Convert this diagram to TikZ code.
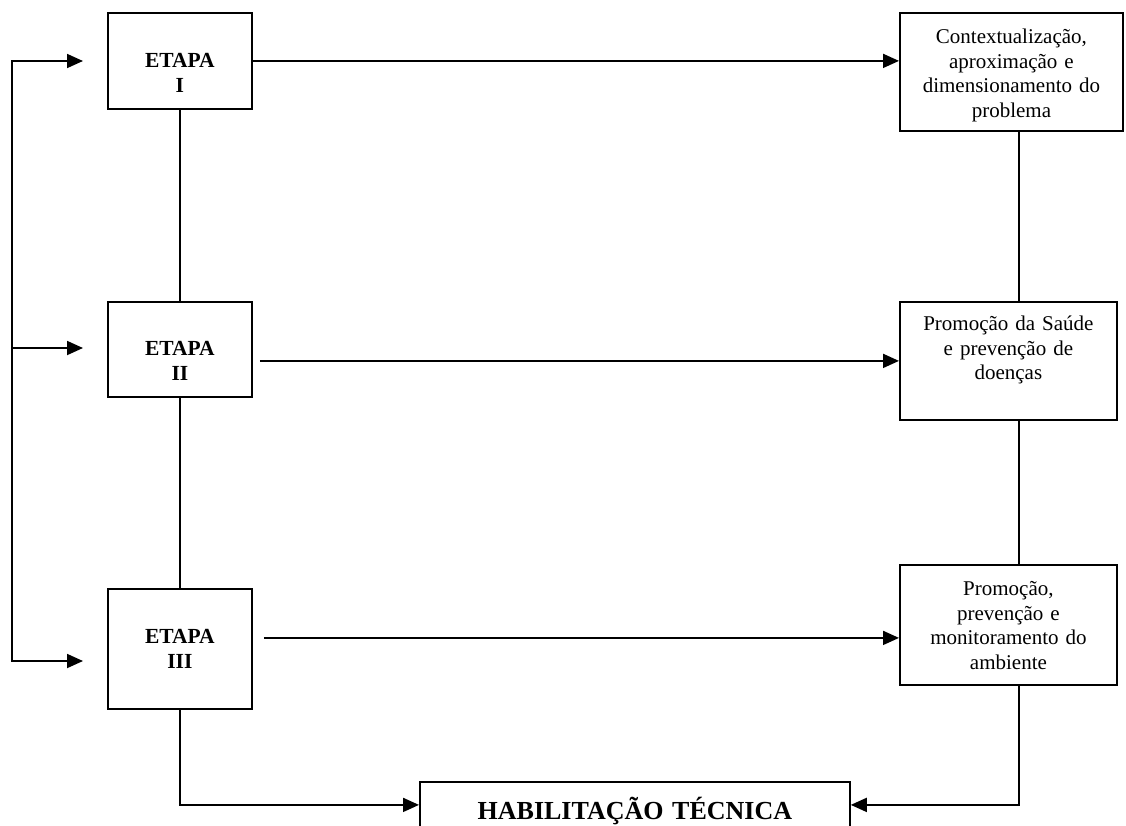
\documentclass[tikz,border=0pt]{standalone}
\usepackage{fontspec}
\setmainfont{Liberation Serif}
\usetikzlibrary{arrows.meta,calc}

\begin{document}
\begin{tikzpicture}[x=1pt,y=-1pt,>={Triangle[length=16pt,width=14pt]},
	box/.style={draw,line width=1.8pt,anchor=north west,inner xsep=4pt,inner ysep=0pt,align=center},
	etapa/.style={box,text width=136pt,font=\bfseries\fontsize{21.5}{25}\selectfont},
	acao/.style={box,font=\fontsize{21}{24.5}\selectfont},
	lin/.style={line width=1.8pt},
	arr/.style={lin,->}]
\useasboundingbox (0,0) rectangle (1126,825);
\clip (0,0) rectangle (1126,825);
% etapas
\node[etapa,text height=55pt,text depth=41pt] (e1) at (107,12) {ETAPA\\I};
\node[etapa,text height=54pt,text depth=41pt] (e2) at (107,301) {ETAPA\\II};
\node[etapa,text height=55pt,text depth=65pt] (e3) at (107,588) {ETAPA\\III};
% acoes
\node[acao,text width=215pt,text height=31pt,text depth=87pt] (r1) at (899,12) {Contextualização,\\aproximação e\\dimensionamento do\\problema};
\node[acao,text width=209pt,text height=29pt,text depth=89pt] (r2) at (899,301) {Promoção da Saúde\\e prevenção de\\doenças};
\node[acao,text width=209pt,text height=31pt,text depth=89pt] (r3) at (899,564) {Promoção,\\prevenção e\\monitoramento do\\ambiente};
\node[box,text width=422pt,text height=38pt,text depth=8pt,font=\bfseries\fontsize{26}{30}\selectfont] (hab) at (419,781) {HABILITAÇÃO TÉCNICA};
% pontos auxiliares
\coordinate (bk1) at (12,61);
\coordinate (bk2) at (12,348);
\coordinate (bk3) at (12,661);
\coordinate (tipx) at (83,0);
\coordinate (rx) at (1019,0);
\coordinate (s2) at ($(e2.east |- r2.west)+(7,0)$);
\coordinate (s3) at ($(e3.east)+(11,-11)$);
% conexoes
\draw[lin,<->] (bk1 -| tipx) -- (bk1) -- (bk3) -- (bk3 -| tipx);
\draw[arr] (bk2) -- (bk2 -| tipx);
\draw[arr] (e1.east) -- (e1.east -| r1.west);
\draw[arr] (s2) -- (r2.west);
\draw[arr] (s3) -- (s3 -| r3.west);
\draw[lin] (e1) -- (e2);
\draw[lin] (e2) -- (e3);
\draw[lin] (r1.south -| rx) -- (r2.north -| rx);
\draw[lin] (r2.south -| rx) -- (r3.north -| rx);
\draw[arr] (e3.south) |- (hab.west);
\draw[arr] (r3.south -| rx) |- (hab.east);
\end{tikzpicture}
\end{document}
